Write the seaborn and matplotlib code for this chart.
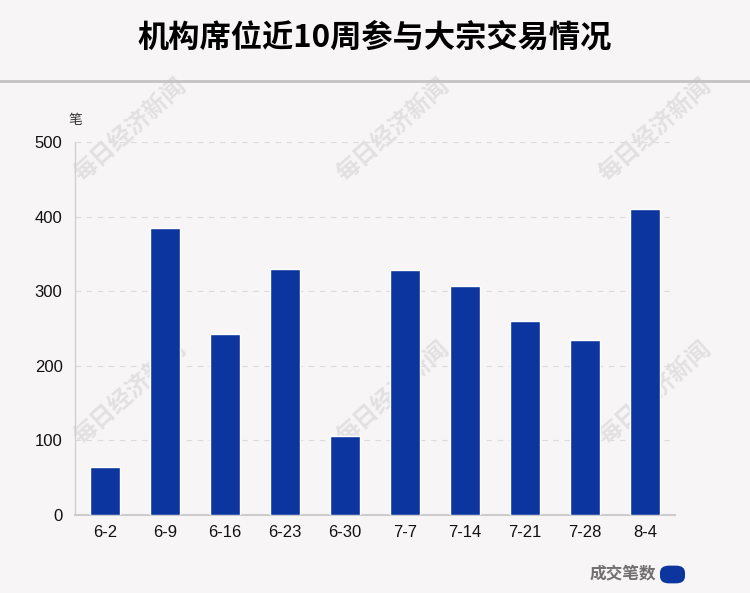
import matplotlib
matplotlib.use("Agg")
import matplotlib.pyplot as plt
import seaborn as sns
import pandas as pd
from matplotlib.patches import FancyBboxPatch
from matplotlib.lines import Line2D

# Data
weeks = ["6-2", "6-9", "6-16", "6-23", "6-30", "7-7", "7-14", "7-21", "7-28", "8-4"]
counts = [64, 385, 243, 330, 106, 328, 307, 260, 235, 410]
yticks = [0, 100, 200, 300, 400, 500]

BG = "#f8f5f6"
BAR = "#0c359f"

sns.set_theme(style="white")
plt.rcParams["font.family"] = ["Liberation Sans", "Noto Sans CJK SC", "DejaVu Sans"]
cjk = ["Noto Sans CJK SC", "DejaVu Sans"]

df = pd.DataFrame({"week": weeks, "count": counts})

fig = plt.figure(figsize=(7.5, 5.93), dpi=100, facecolor=BG)
ax = fig.add_axes([0.1, 0.1315, 0.8, 0.629])
ax.set_facecolor(BG)

# watermarks, kept behind the bars
for wx, wy in [(130, 130), (393, 130), (655, 130), (130, 393), (393, 393), (655, 393)]:
    ax.text(wx / 750, 1 - wy / 593, "每日经济新闻", family=cjk, fontsize=17,
            fontweight="bold", color="#e3e0e1", rotation=42,
            ha="center", va="center", zorder=1, clip_on=False,
            transform=fig.transFigure)

sns.barplot(data=df, x="week", y="count", color=BAR, saturation=1,
            width=0.5, ax=ax, zorder=3)

ax.set_xlim(-0.5, len(weeks) - 0.5)
ax.set_ylim(0, 500)
ax.set_yticks(yticks)
ax.grid(axis="y", color="#dedada", linestyle=(0, (5, 5)), linewidth=0.8, zorder=0)
ax.set_xlabel("")
ax.set_ylabel("")
ax.tick_params(axis="both", length=0, labelsize=12, colors="#111111")
ax.tick_params(axis="y", pad=9)
ax.tick_params(axis="x", pad=7.5)
for s in ["top", "right"]:
    ax.spines[s].set_visible(False)
ax.spines["left"].set_color("#d3d0d1")
ax.spines["left"].set_linewidth(1)
ax.spines["bottom"].set_color("#cccccc")
ax.spines["bottom"].set_linewidth(1.5)

fig.text(75 / 750, 1 - 120 / 593, "笔", family=cjk, fontsize=10,
         color="#333333", ha="center", va="center")

# title and divider
fig.text(0.5, 1 - 38 / 593, "机构席位近10周参与大宗交易情况", family=cjk,
         fontsize=22.5, fontweight="bold", color="#000000",
         ha="center", va="center")
fig.add_artist(Line2D([0, 1], [1 - 81 / 593] * 2, color="#c4c2c3",
                      linewidth=2, transform=fig.transFigure))

# legend
fig.text(656 / 750, 1 - 573 / 593, "成交笔数", family=cjk, fontsize=12,
         fontweight="bold", color="#707070", ha="right", va="center")
fig.add_artist(FancyBboxPatch((663 / 750, 1 - 581 / 593), 19 / 750, 13 / 593,
                              boxstyle="round,pad=0.004,rounding_size=0.012",
                              transform=fig.transFigure, facecolor=BAR,
                              edgecolor="none"))

fig.savefig("out.png", dpi=100, facecolor=BG)
